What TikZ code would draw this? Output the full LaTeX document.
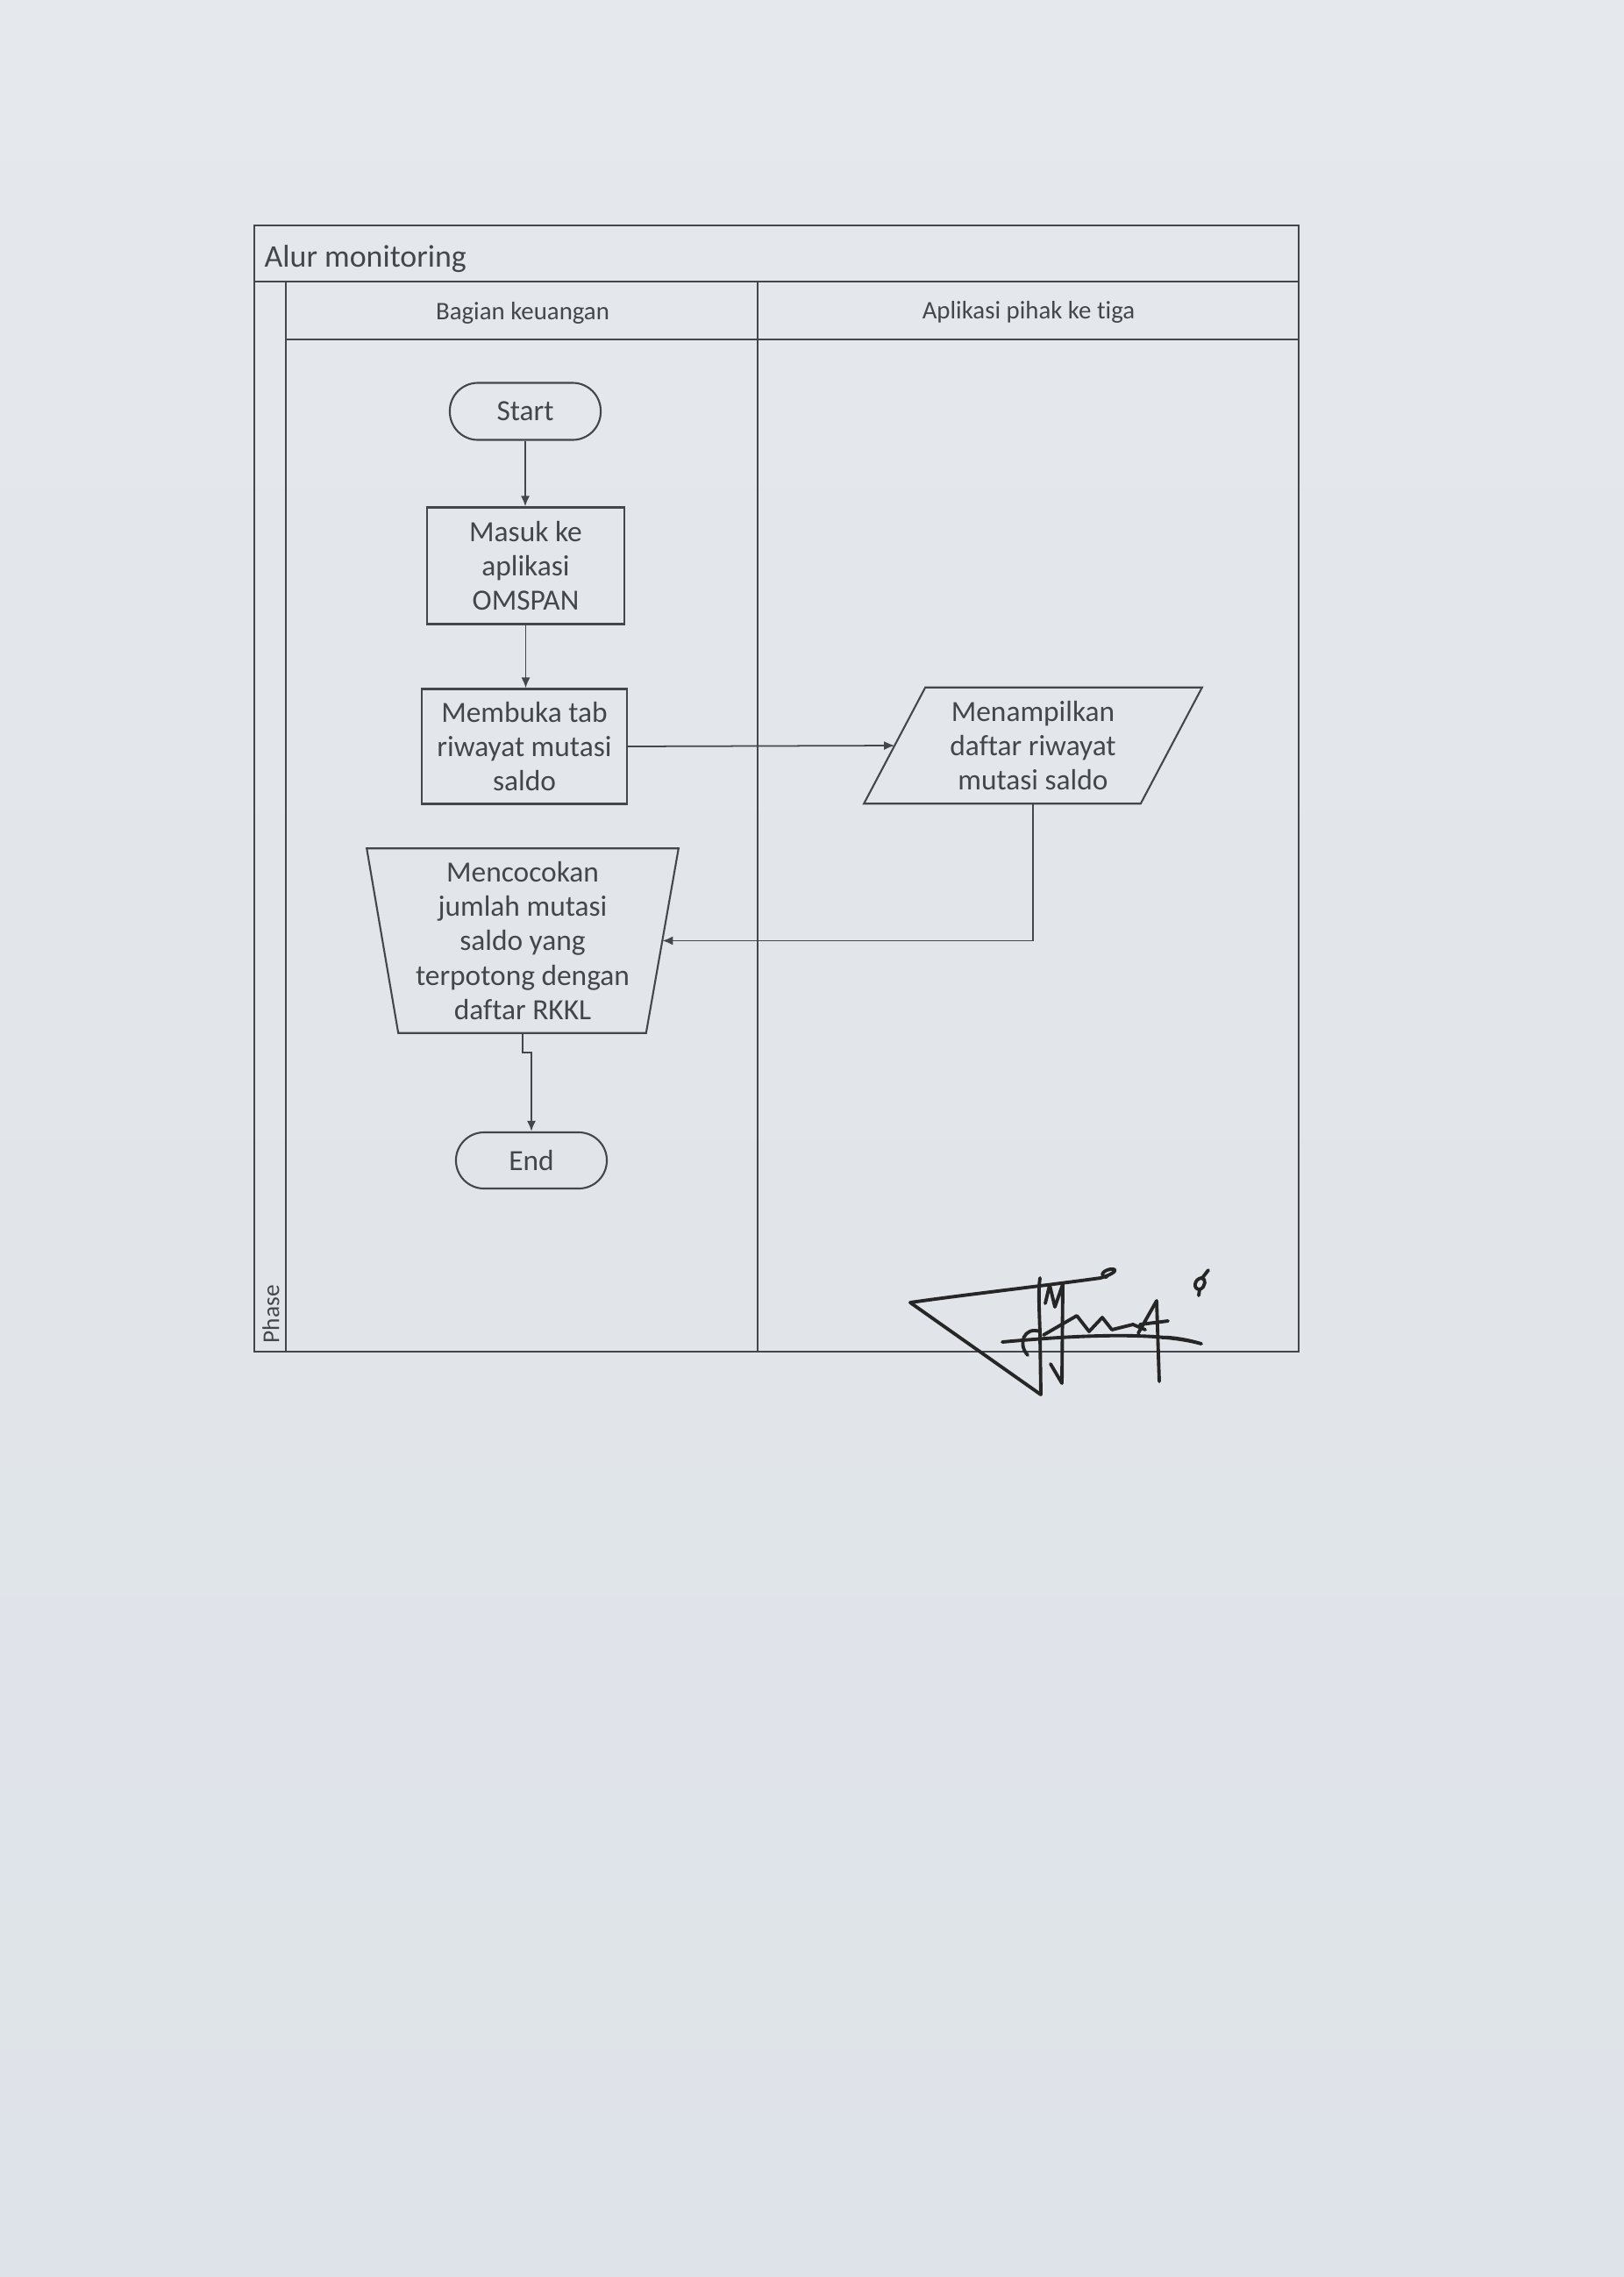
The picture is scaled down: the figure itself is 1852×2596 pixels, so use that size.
\documentclass[tikz,border=0pt]{standalone}
\usepackage{fontspec}
\setmainfont{Carlito}[Ligatures={NoCommon}]
\usetikzlibrary{arrows.meta,calc}
\definecolor{ink}{HTML}{44474A}
\definecolor{papertop}{HTML}{E5E8EC}
\definecolor{papermid}{HTML}{EAEEF2}
\definecolor{paperbot}{HTML}{DEE3E9}
\begin{document}
\begin{tikzpicture}[x=0.01cm,y=-0.01cm,
  shp/.style={draw=ink, line width=0.6pt},
  txt/.style={text=ink, align=center, font=\fontsize{9.5}{11.1}\selectfont, inner sep=0pt},
  conn/.style={draw=ink, line width=0.5pt, -{Latex[length=1.2mm,width=1mm]}},
  frame/.style={draw=ink, line width=0.7pt},
  hdr/.style={text=ink, font=\fontsize{8.2}{10}\selectfont, inner sep=0pt},
  sig/.style={draw=black!85, line width=1.1pt, line cap=round, line join=round}]
\useasboundingbox (0,0) rectangle (1852,2596);
\shade[top color=papertop, middle color=papermid, bottom color=paperbot] (0,0) rectangle (1852,2596);

% frame
\draw[frame] (290,257) rectangle (1481,1541);
\draw[frame] (290,321) -- (1481,321);
\draw[frame] (326,387) -- (1481,387);
\draw[frame] (326,321) -- (326,1541);
\draw[frame] (864,321) -- (864,1541);

\node[anchor=west, text=ink, font=\fontsize{10.2}{12}\selectfont, inner sep=0pt] (title) at (301,295) {Alur monitoring};
\node[hdr] (lane1) at (596,357) {Bagian keuangan};
\node[hdr] (lane2) at (1173,356) {Aplikasi pihak ke tiga};
\node[hdr, rotate=90, anchor=west, font=\fontsize{7.8}{9}\selectfont] (phase) at (309,1532) {Phase};

% nodes
\node[shp, txt, rounded corners=0.32cm, minimum width=1.72cm, minimum height=0.65cm] (start) at (599,469) {Start};
\node[shp, txt, minimum width=2.25cm, minimum height=1.33cm] (masuk) at (599.5,645) {Masuk ke\\aplikasi\\OMSPAN};
\node[shp, txt, minimum width=2.33cm, minimum height=1.31cm] (buka) at (598,851) {Membuka tab\\riwayat mutasi\\saldo};
\node[txt, minimum width=3.84cm, minimum height=1.31cm] (tampil) at (1178,850) {Menampilkan\\daftar riwayat\\mutasi saldo};
\draw[shp] ($(tampil.north west)+(70,0)$) -- (tampil.north east) -- ($(tampil.south east)+(-70,0)$) -- (tampil.south west) -- cycle;
\node[txt, minimum width=3.54cm, minimum height=2.09cm] (cocok) at (596,1072.5) {Mencocokan\\jumlah mutasi\\saldo yang\\terpotong dengan\\daftar RKKL};
\draw[shp] (cocok.north west) -- (cocok.north east) -- ($(cocok.south east)+(-37,0)$) -- ($(cocok.south west)+(36,0)$) -- cycle;
\node[shp, txt, rounded corners=0.32cm, minimum width=1.72cm, minimum height=0.64cm] (end) at (606,1323) {End};

% connectors
\draw[conn] (start.south) -- (start.south |- masuk.north);
\draw[conn] (masuk.south) -- (masuk.south |- buka.north);
\draw[conn] (buka.east) -- ($(tampil.west)+(35,0)$);
\draw[conn] (tampil.south) |- ($(cocok.east)+(-18.5,0)$);
\draw[conn] (cocok.south) -- ++(0,22) -| (end.north);

% signature
\draw[sig] (1038,1485) .. controls (1100,1476) and (1190,1466) .. (1255,1457) .. controls (1272,1452) and (1276,1446) .. (1266,1447) .. controls (1256,1449) and (1254,1456) .. (1262,1456);
\draw[sig] (1038,1485) -- (1187,1590) -- (1186,1520) .. controls (1185,1490) and (1184,1470) .. (1186,1457);
\draw[sig] (1192,1486) -- (1197,1465) -- (1203,1490) -- (1212,1464) -- (1211,1577) -- (1198,1555);
\draw[sig] (1186,1518) .. controls (1168,1512) and (1160,1532) .. (1172,1545);
\draw[sig] (1143,1530) .. controls (1230,1522) and (1320,1518) .. (1370,1532) .. controls (1350,1526) and (1330,1524) .. (1325,1525);
\draw[sig] (1190,1522) -- (1228,1500) -- (1242,1518) -- (1257,1502) -- (1268,1516) -- (1292,1510) -- (1306,1516);
\draw[sig] (1298,1520) -- (1319,1483) -- (1322,1575);
\draw[sig] (1300,1510) -- (1332,1506);
\draw[sig] (1368,1470) .. controls (1360,1470) and (1362,1458) .. (1370,1457) .. controls (1376,1457) and (1375,1468) .. (1368,1470) -- (1367,1477);
\draw[sig] (1371,1457) -- (1378,1448);
\end{tikzpicture}
\end{document}
